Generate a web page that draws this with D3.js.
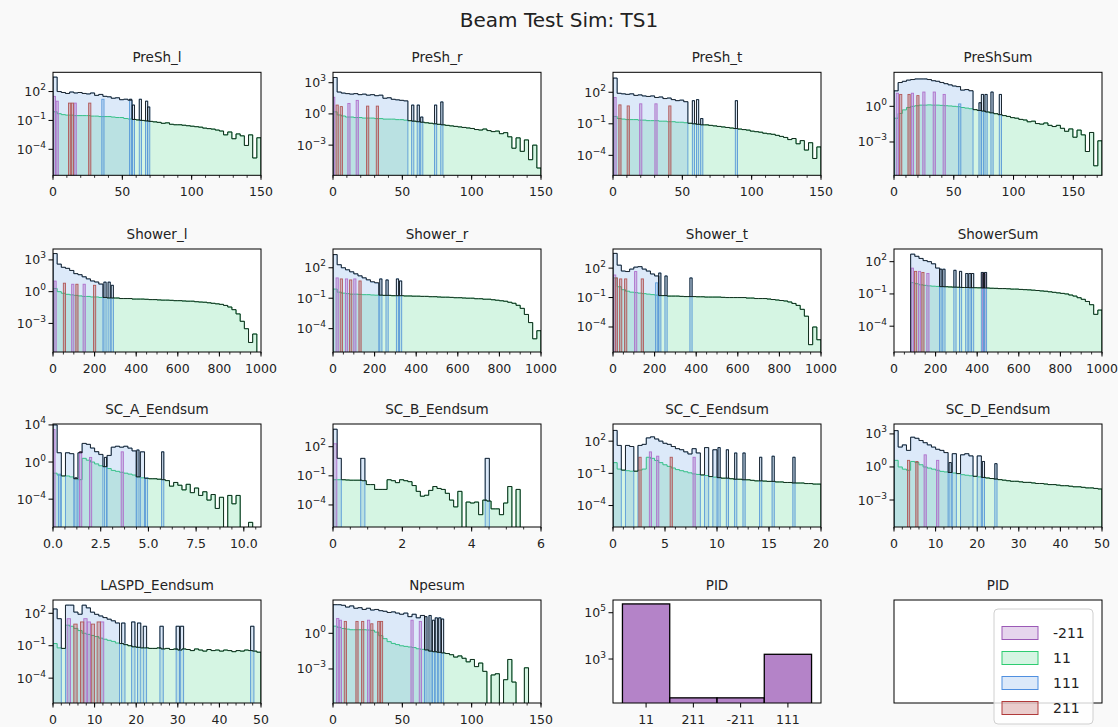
<!DOCTYPE html>
<html><head><meta charset="utf-8">
<script src="https://cdn.jsdelivr.net/npm/d3@7"></script>
<style>body{margin:0;background:#f9f9f9} svg{display:block} text{font-family:"DejaVu Sans",sans-serif;fill:#222}</style>
</head><body><svg id="c" width="1118" height="727"></svg>
<script>
// ---------- DATA (values as log10 of bin height; null = empty bin) ----------
const speciesOrder = ["-211","11","111","211"];

// PreSh_l
const preShL_e11 = [-0.1,-0.3,-0.4,-0.45,-0.45,-0.5,-0.5,-0.5,-0.5,-0.55,-0.55,-0.6,-0.6,-0.6,-0.65,-0.7,-0.7,-0.8,-0.85,-0.9,-0.95,-1.0,-1.05,-1.1,-1.15,-1.2,-1.3,-1.25,-1.4,-1.45,-1.45,-1.5,-1.55,-1.6,-1.65,-1.7,-1.8,-1.85,-1.9,-2.0,-2.1,-2.5,-2.2,-2.9,-2.4,-2.6,-3.6,-2.5,-4.9,-2.8];
const preShL_p111 = [3.5,2.0,1.9,1.8,1.95,1.85,1.9,1.8,1.75,1.85,1.6,1.7,1.5,1.45,1.3,1.35,1.15,1.2,1.1];
const preShL_p111s = [[36,1.2],[56,1.2],[58,0.6],[63,1.2],[67.5,1.0],[69,0.4]];
const preShL_m211 = [[1,1.5],[3,1.0],[16,0.8]];
const preShL_p211 = [[12,0.8],[14,0.8],[26.5,0.8]];

// PreSh_r
const preShR_e11 = [0.2,-0.1,-0.2,-0.3,-0.3,-0.35,-0.35,-0.4,-0.4,-0.4,-0.45,-0.45,-0.5,-0.5,-0.5,-0.55,-0.55,-0.6,-0.65,-0.7,-0.75,-0.8,-0.85,-0.9,-0.95,-1.0,-1.05,-1.1,-1.15,-1.2,-1.25,-1.3,-1.35,-1.4,-1.5,-1.55,-1.45,-1.6,-1.7,-1.65,-1.9,-1.8,-2.2,-3.3,-2.3,-3.6,-2.5,-4.4,-3.0,-5.2];
const preShR_p111 = [3.5,2.1,2.0,1.95,1.9,1.95,1.85,1.9,1.8,1.85,1.75,1.8,1.5,1.55,1.4,1.35,1.3,1.25];
const preShR_p111s = [[57.5,0.85],[61.5,0.85],[74,0.85],[78.5,1.15],[64,-0.3]];
const preShR_m211 = [[0.5,1.6],[11.5,1.0],[17.5,1.3]];
const preShR_p211 = [[3,0.85],[6,0.7],[25,0.75],[32,0.75]];

// PreSh_t
const preShT_e11 = [-0.3,-0.5,-0.55,-0.6,-0.6,-0.6,-0.65,-0.65,-0.7,-0.7,-0.7,-0.75,-0.75,-0.8,-0.8,-0.85,-0.85,-0.9,-0.95,-1.0,-1.05,-1.1,-1.1,-1.15,-1.2,-1.25,-1.3,-1.35,-1.4,-1.45,-1.5,-1.55,-1.6,-1.7,-1.75,-1.8,-1.9,-1.95,-2.0,-2.1,-2.2,-2.3,-2.5,-2.4,-2.9,-2.6,-3.5,-2.8,-4.3,-3.2];
const preShT_p111 = [3.35,1.9,1.85,1.8,1.85,1.7,1.75,1.65,1.6,1.65,1.5,1.55,1.4,1.45,1.3,1.2,1.25,1.1];
const preShT_p111s = [[58,1.2],[61,1.3],[89,1.2],[64,-0.5]];
const preShT_m211 = [[1.5,1.5],[20,0.9],[31,0.9]];
const preShT_p211 = [[5,0.8],[11,0.7],[41,0.7]];

// PreShSum
const preShSum_e11 = [-1.0,-0.6,-0.3,-0.1,0.0,0.05,0.1,0.1,0.12,0.1,0.1,0.08,0.05,0.03,0.0,-0.03,-0.1,-0.15,-0.2,-0.28,-0.35,-0.4,-0.48,-0.55,-0.62,-0.7,-0.78,-0.85,-0.95,-1.0,-1.1,-1.15,-1.3,-1.25,-1.45,-1.5,-1.4,-1.6,-1.7,-1.6,-1.85,-2.1,-1.9,-2.6,-2.0,-2.4,-3.8,-2.2,-5.0,-2.9];
const preShSum_p111 = [1.3,2.0,2.1,2.2,2.25,2.3,2.3,2.3,2.25,2.15,2.1,2.0,1.9,1.8,1.7,1.65,1.35,1.4,1.3];
const preShSum_p111s = [[74,1.0],[77,1.0],[82,1.2],[89,1.0],[55,0.2],[72,0.3]];
const preShSum_m211 = [[2.8,1.1],[15.4,1.1],[25,1.2],[33.7,1.2],[42,1.0]];
const preShSum_p211 = [[5.6,1.0],[12.6,1.0],[20,0.9]];

// Shower_l
const showerL_e11 = [0.3,0.0,-0.15,-0.25,-0.3,-0.35,-0.4,-0.45,-0.45,-0.5,-0.5,-0.55,-0.55,-0.6,-0.6,-0.6,-0.65,-0.65,-0.65,-0.7,-0.7,-0.7,-0.72,-0.75,-0.75,-0.78,-0.8,-0.8,-0.82,-0.85,-0.85,-0.88,-0.9,-0.9,-0.95,-0.98,-1.0,-1.05,-1.1,-1.15,-1.2,-1.3,-1.45,-1.7,-2.1,-2.8,-3.5,-4.8,-4.0,null];
const showerL_p111 = [3.6,2.6,2.3,2.2,2.0,1.7,1.6,1.4,1.2,1.0,0.9,0.7];
const showerL_p111s = [[250,0.9],[270,0.9],[285,0.6]];
const showerL_m211 = [[10,1.0],[95,0.7],[150,0.7]];
const showerL_p211 = [[55,0.8],[115,0.7],[200,0.6]];

// Shower_r
const showerR_e11 = [-0.1,-0.4,-0.5,-0.55,-0.6,-0.6,-0.62,-0.65,-0.65,-0.68,-0.7,-0.7,-0.72,-0.72,-0.75,-0.75,-0.75,-0.78,-0.78,-0.8,-0.8,-0.82,-0.82,-0.85,-0.85,-0.88,-0.9,-0.9,-0.92,-0.95,-0.95,-0.98,-1.0,-1.0,-1.05,-1.05,-1.1,-1.1,-1.15,-1.2,-1.25,-1.3,-1.4,-1.5,-1.7,-2.0,-2.6,-3.4,-5.0,-4.2];
const showerR_p111 = [3.3,2.3,2.0,1.8,1.6,1.4,1.2,1.0,0.8,0.6,0.5];
const showerR_p111s = [[230,0.9],[260,0.8],[310,0.9],[325,0.7]];
const showerR_m211 = [[20,1.0],[65,0.9],[105,0.9]];
const showerR_p211 = [[40,0.9],[85,0.8],[130,0.7]];

// Shower_t
const showerT_e11 = [1.0,0.1,-0.2,-0.35,-0.45,-0.5,-0.55,-0.6,-0.65,-0.7,-0.75,-0.8,-0.8,-0.85,-0.85,-0.85,-0.88,-0.9,-0.9,-0.9,-0.92,-0.92,-0.95,-0.95,-0.95,-0.95,-0.98,-1.0,-1.0,-1.0,-1.0,-1.0,-1.05,-1.05,-1.1,-1.1,-1.1,-1.15,-1.2,-1.25,-1.3,-1.35,-1.45,-1.6,-1.8,-2.2,-2.9,-5.8,-4.0,-5.3];
const showerT_p111 = [3.5,2.3,1.7,1.65,1.9,2.1,2.15,1.9,1.7,1.4,1.2];
const showerT_p111s = [[225,1.5],[255,1.2],[375,1.0],[210,0.5]];
const showerT_m211 = [[8,1.3],[109,1.65]];
const showerT_p211 = [[16,1.0],[37,0.9],[61,0.9],[141,0.9]];

// ShowerSum
const showerSum_e11 = [null,null,null,null,0.05,-0.05,-0.15,-0.2,-0.25,-0.28,-0.3,-0.32,-0.33,-0.35,-0.37,-0.38,-0.4,-0.4,-0.42,-0.42,-0.43,-0.45,-0.45,-0.47,-0.48,-0.5,-0.5,-0.52,-0.55,-0.55,-0.58,-0.6,-0.62,-0.65,-0.68,-0.72,-0.75,-0.8,-0.85,-0.9,-0.95,-1.0,-1.1,-1.2,-1.35,-1.5,-1.7,-2.0,-2.9,-2.5];
const showerSum_p111 = [null,null,null,null,2.7,2.5,2.3,2.1,2.0,1.8,1.4];
const showerSum_p111s = [[225,1.3],[240,1.3],[293,1.2],[320,1.1],[350,0.9],[365,0.9],[378,0.9],[425,1.0],[440,1.0]];
const showerSum_m211 = [[88,1.4],[123,1.1],[163,0.9],[432,0.9]];
const showerSum_p211 = [[104,1.1],[139,1.0]];

// SC_A_Eendsum
const scA_e11 = [-1.2,-1.4,-1.5,-1.5,-1.6,-1.8,-1.9,0.4,0.2,0.0,-0.2,-0.4,-0.5,-0.7,-0.9,-1.0,-1.1,-1.2,-1.3,-1.4,-1.6,-1.7,-1.75,-1.8,-1.8,-1.85,-1.9,-2.0,-2.6,-2.2,-2.5,-3.0,-2.4,-3.3,-2.8,-3.6,-3.2,-4.1,-3.5,-5.0,-3.8,null,-3.6,-4.5,-3.6,null,null,-6.5,null,null];
const scA_p111 = [4.0,1.0,null,1.0,0.9,null,1.0,2.0,1.9,1.5,1.1,0.8,null,0.7,1.6,1.7,1.6,1.7,1.5,1.2,null,1.1];
const scA_p111s = [[0.35,-1.3],[1.2,-1.7],[2.75,0.5],[4.45,1.3],[4.9,-1.7],[5.75,1.1]];
const scA_m211 = [[0.05,3.5],[1.45,1.1],[1.97,0.5],[3.63,1.1]];
const scA_p211 = [];

// SC_B_Eendsum
const scB_e11 = [-1.4,-1.4,-1.4,-1.43,-1.45,-1.45,-1.45,-1.5,-1.9,-1.9,-2.4,-2.4,-2.4,-1.4,-1.5,-1.7,-1.4,-1.5,-1.6,-2.0,-2.6,-3.1,-3.0,-2.5,-2.1,-2.3,-2.4,-2.8,-3.5,-4.2,-2.6,null,-3.7,-3.8,-3.7,-5.0,-3.5,-3.6,-4.4,-4.4,-5.0,-3.8,-2.1,null,-2.4,null,null,null,null,null];
const scB_p111 = [3.8,0.8];
const scB_p111s = [[0.86,0.8],[4.45,0.8]];
const scB_m211 = [[0.05,2.3]];
const scB_p211 = [];

// SC_C_Eendsum
const scC_e11 = [0.0,-0.6,-0.7,-0.75,-0.8,-0.8,-0.7,-0.6,0.5,0.4,0.2,0.0,-0.2,-0.35,-0.5,-0.65,-0.75,-0.85,-0.95,-1.05,-1.1,-1.15,-1.2,-1.3,-1.35,-1.4,-1.45,-1.45,-1.5,-1.55,-1.55,-1.6,-1.6,-1.65,-1.7,-1.7,-1.72,-1.75,-1.75,-1.8,-1.8,-1.85,-1.85,-1.9,-1.9,-1.9,-1.95,-1.95,-2.0,-2.0];
const scC_p111 = [3.0,1.6,null,1.6,1.5,null,1.6,1.7,2.3,2.4,2.2,2.0,1.8,1.7,1.5,1.3,1.2,1.0,0.8,1.3,0.9,null,1.4,null,1.2];
const scC_p111s = [[10.2,1.4],[11.0,1.2],[11.8,0.9],[12.6,0.9],[14.2,0.5],[15.4,0.6],[17.4,0.5]];
const scC_m211 = [[3.6,1.0],[4.3,0.6],[7.8,0.5]];
const scC_p211 = [[2.6,0.5],[5.6,0.5]];

// SC_D_Eendsum
const scD_e11 = [0.6,0.0,-0.2,-0.3,0.5,0.4,0.2,0.0,-0.1,-0.2,-0.3,-0.4,-0.45,-0.5,-0.55,-0.6,-0.7,-0.75,-0.8,-0.85,-0.9,-0.95,-1.0,-1.05,-1.1,-1.15,-1.2,-1.25,-1.3,-1.3,-1.35,-1.4,-1.4,-1.45,-1.5,-1.5,-1.55,-1.6,-1.6,-1.65,-1.7,-1.7,-1.75,-1.8,-1.8,-1.85,-1.9,-1.9,-1.95,-2.0];
const scD_p111 = [3.3,1.8,2.0,1.5,2.7,2.6,2.4,2.2,2.0,1.8,1.6,1.5,1.3,null,1.2,null,1.1,1.2,1.0,null,1.0];
const scD_p111s = [[21.5,0.5],[24.5,0.3],[13.5,0.4]];
const scD_m211 = [[7.5,1.1],[10.5,0.6]];
const scD_p211 = [[3.5,0.6],[5.5,0.5]];

// LASPD_Eendsum
const laspd_e11 = [-0.8,-1.2,-1.25,0.9,0.8,0.6,0.4,0.15,0.05,-0.05,-0.15,-0.3,-0.4,-0.5,-0.6,-0.75,-0.8,-0.9,-1.0,-1.1,-1.15,-1.2,-1.2,-1.25,-1.25,-1.2,-1.3,-1.25,-1.35,-1.3,-1.4,-1.3,-1.35,-1.45,-1.3,-1.4,-1.5,-1.35,-1.45,-1.4,-1.5,-1.4,-1.45,-1.55,-1.45,-1.5,-1.4,-1.45,-1.5,-1.6];
const laspd_p111 = [2.4,1.5,null,2.75,2.75,2.1,1.9,2.75,2.5,2.1,1.9,1.75,1.6,1.45,1.3,1.1];
const laspd_p111s = [[16.9,1.1],[19.3,1.2],[20.7,1.1],[22.1,0.8],[26.1,0.8],[30.0,0.8],[31.0,0.8],[47.9,0.8]];
const laspd_m211 = [[3.8,1.5],[7.8,1.5],[8.6,1.2],[11.8,1.2]];
const laspd_p211 = [[5.4,1.0],[7.0,1.2],[9.6,1.0],[11.0,1.2]];

// Npesum
const npe_e11 = [0.6,0.5,0.4,0.35,0.3,0.3,0.3,0.3,0.28,0.25,0.1,-0.2,-0.45,-0.7,-0.85,-0.95,-1.05,-1.1,-1.15,-1.2,-1.3,-1.35,-1.4,-1.5,-1.55,-1.6,-1.65,-1.7,-1.8,-2.0,-1.9,-2.1,-2.4,-2.2,-2.8,-2.5,-3.2,null,-3.5,-3.4,null,-3.9,-2.2,-4.1,null,null,-2.9,null,null,null];
const npe_p111 = [2.4,2.4,2.35,2.2,2.3,2.1,2.15,2.0,2.1,1.95,2.0,1.9,1.85,1.75,1.8,1.7,1.6,1.7,1.4,1.6,1.3,1.5];
const npe_p111s = [[67,1.4],[70,1.5],[72.5,1.1],[74.5,1.3],[77,1.3],[79,1.2]];
const npe_m211 = [[3.4,1.25],[5.3,1.1],[25.7,1.1],[57,1.1],[63,1.0]];
const npe_p211 = [[8.9,1.0],[17.3,1.0],[21.4,1.0],[28,0.8],[33,1.0],[35,1.0]];

// PID
const pidCats = ["11","211","-211","111"];
const pidCounts = [240000, 21, 21, 1600];

// ---------- PANEL SETUP ----------
const panels = [
 {t:"PreSh_l", xd:[0,150], xt:[0,50,100,150], yd:[-6.7,4.0], yt:[2,-1,-4], g:preShL_e11, b:preShL_p111, bs:preShL_p111s, m:preShL_m211, r:preShL_p211},
 {t:"PreSh_r", xd:[0,150], xt:[0,50,100,150], yd:[-5.9,4.0], yt:[3,0,-3], g:preShR_e11, b:preShR_p111, bs:preShR_p111s, m:preShR_m211, r:preShR_p211},
 {t:"PreSh_t", xd:[0,150], xt:[0,50,100,150], yd:[-5.9,3.9], yt:[2,-1,-4], g:preShT_e11, b:preShT_p111, bs:preShT_p111s, m:preShT_m211, r:preShT_p211},
 {t:"PreShSum", xd:[0,174], xt:[0,50,100,150], yd:[-5.8,2.86], yt:[0,-3], g:preShSum_e11, b:preShSum_p111, bs:preShSum_p111s, m:preShSum_m211, r:preShSum_p211},
 {t:"Shower_l", xd:[0,1000], xt:[0,200,400,600,800,1000], yd:[-5.7,4.03], yt:[3,0,-3], g:showerL_e11, b:showerL_p111, bs:showerL_p111s, m:showerL_m211, r:showerL_p211},
 {t:"Shower_r", xd:[0,1000], xt:[0,200,400,600,800,1000], yd:[-6.3,3.85], yt:[2,-1,-4], g:showerR_e11, b:showerR_p111, bs:showerR_p111s, m:showerR_m211, r:showerR_p211},
 {t:"Shower_t", xd:[0,1000], xt:[0,200,400,600,800,1000], yd:[-6.55,3.95], yt:[2,-1,-4], g:showerT_e11, b:showerT_p111, bs:showerT_p111s, m:showerT_m211, r:showerT_p211},
 {t:"ShowerSum", xd:[0,1000], xt:[0,200,400,600,800,1000], yd:[-6.4,3.18], yt:[2,-1,-4], g:showerSum_e11, b:showerSum_p111, bs:showerSum_p111s, m:showerSum_m211, r:showerSum_p211},
 {t:"SC_A_Eendsum", xd:[0,10.9], xt:[0,2.5,5,7.5,10], fmt:d3.format(".1f"), yd:[-7.0,4.1], yt:[4,0,-4], g:scA_e11, b:scA_p111, bs:scA_p111s, m:scA_m211, r:scA_p211},
 {t:"SC_B_Eendsum", xd:[0,6], xt:[0,2,4,6], yd:[-6.27,4.34], yt:[2,-1,-4], g:scB_e11, b:scB_p111, bs:scB_p111s, m:scB_m211, r:scB_p211, sw:0.12},
 {t:"SC_C_Eendsum", xd:[0,20], xt:[0,5,10,15,20], yd:[-6.0,3.6], yt:[2,-1,-4], g:scC_e11, b:scC_p111, bs:scC_p111s, m:scC_m211, r:scC_p211},
 {t:"SC_D_Eendsum", xd:[0,50], xt:[0,10,20,30,40,50], yd:[-5.45,3.9], yt:[3,0,-3], g:scD_e11, b:scD_p111, bs:scD_p111s, m:scD_m211, r:scD_p211},
 {t:"LASPD_Eendsum", xd:[0,50], xt:[0,10,20,30,40,50], yd:[-6.3,3.23], yt:[2,-1,-4], g:laspd_e11, b:laspd_p111, bs:laspd_p111s, m:laspd_m211, r:laspd_p211, sw:0.8},
 {t:"Npesum", xd:[0,150], xt:[0,50,100,150], yd:[-5.86,2.8], yt:[0,-3], g:npe_e11, b:npe_p111, bs:npe_p111s, m:npe_m211, r:npe_p211}
];

const COL = {"-211":"#9b59b6","11":"#2ecc71","111":"#4f8fe0","211":"#b03a3a"};
const SPIKE_EDGE = {"-211":"#b070cc","111":"#5a9ad8","211":"#b25858"};
const colL=[53,333,613,894], rowT=[72.3,249,424,600], W=208, H=103;
const svg = d3.select('#c');
svg.append('rect').attr('width',1118).attr('height',727).attr('fill','#f9f9f9');
svg.append('text').attr('x',559).attr('y',27).attr('text-anchor','middle').attr('font-size',20).text('Beam Test Sim: TS1');

function supLabel(sel, e){
  sel.append('tspan').text('10');
  sel.append('tspan').attr('dy',-6).attr('font-size',9).text(e<0?'\u2212'+(-e):String(e));
}

function frame(i){
  const col=i%4,row=Math.floor(i/4);
  const g=svg.append('g').attr('transform',`translate(${colL[col]},${rowT[row]})`);
  g.append('rect').attr('width',W).attr('height',H).attr('fill','#fff');
  return g;
}

function xAxis(g, xS, ticks, fmt, minor){
  const ax=g.append('g').attr('transform',`translate(0,${H})`);
  if(minor){
    ax.selectAll('line.mn').data(minor).join('line').attr('x1',d=>xS(d)).attr('x2',d=>xS(d)).attr('y1',0).attr('y2',2.5).attr('stroke','#000').attr('stroke-width',0.8);
  }
  ax.selectAll('line.mj').data(ticks).join('line').attr('x1',d=>xS(d)).attr('x2',d=>xS(d)).attr('y1',0).attr('y2',4.5).attr('stroke','#000').attr('stroke-width',1);
  ax.selectAll('text').data(ticks).join('text').attr('x',d=>xS(d)).attr('y',21).attr('text-anchor','middle').attr('font-size',12.5).text(d=>fmt(d));
}
function yAxis(g, yS, exps){
  exps.forEach(e=>{
    const y=yS(Math.pow(10,e));
    g.append('line').attr('x1',-4.5).attr('x2',0).attr('y1',y).attr('y2',y).attr('stroke','#000');
    const t=g.append('text').attr('x',-7).attr('y',y+4.5).attr('text-anchor','end').attr('font-size',12.5);
    supLabel(t,e);
  });
}

function stepPath(arr, x0, bw, xS, yS, closed){
  const bot=H+4;
  const yv=v=>v==null?bot:Math.min(bot,yS(Math.pow(10,v)));
  let d=`M${xS(x0)},${bot}`;
  arr.forEach((v,k)=>{const y=yv(v); d+=`L${xS(x0+k*bw)},${y}L${xS(x0+(k+1)*bw)},${y}`;});
  d+=`L${xS(x0+arr.length*bw)},${bot}`;
  return closed? d+'Z' : d;
}

panels.forEach((p,i)=>{
  const g=frame(i);
  const xS=d3.scaleLinear().domain(p.xd).range([0,W]);
  const yS=d3.scaleLog().domain([Math.pow(10,p.yd[0]),Math.pow(10,p.yd[1])]).range([H,0]);
  const nb=p.g.length, x0=p.xd[0], bw=(p.xd[1]-p.xd[0])/nb;
  const sw=p.sw||(p.xd[1]-p.xd[0])/95;
  const cid='clip'+i;
  g.append('clipPath').attr('id',cid).append('rect').attr('width',W).attr('height',H);
  const pl=g.append('g').attr('clip-path',`url(#${cid})`);
  // 11 layer
  pl.append('path').attr('d',stepPath(p.g,x0,bw,xS,yS,true)).attr('fill',COL["11"]).attr('fill-opacity',0.2).attr('stroke','none');
  pl.append('path').attr('d',stepPath(p.g,x0,bw,xS,yS,false)).attr('fill','none').attr('stroke',COL["11"]).attr('stroke-width',1);
  // 111 main layer
  pl.append('path').attr('d',stepPath(p.b,x0,bw,xS,yS,true)).attr('fill',COL["111"]).attr('fill-opacity',0.2).attr('stroke','none');
  pl.append('path').attr('d',stepPath(p.b,x0,bw,xS,yS,false)).attr('fill','none').attr('stroke',SPIKE_EDGE["111"]).attr('stroke-width',0.9);
  // spikes
  const spikes=(list,key)=>{
    pl.selectAll(null).data(list).join('rect')
      .attr('x',d=>xS(d[0]-sw/2)).attr('width',d=>Math.max(1,xS(d[0]+sw/2)-xS(d[0]-sw/2)))
      .attr('y',d=>yS(Math.pow(10,d[1]))).attr('height',d=>H+4-yS(Math.pow(10,d[1])))
      .attr('fill',COL[key]).attr('fill-opacity',key==="111"?0.2:0.28).attr('stroke',SPIKE_EDGE[key]).attr('stroke-width',0.9);
  };
  spikes(p.m,"-211"); spikes(p.bs,"111"); spikes(p.r,"211");
  // total envelope
  const bArr=p.b;
  const tot=p.g.map((v,k)=>{
    let s=0; if(v!=null) s+=Math.pow(10,v);
    const bv=bArr[k]; if(bv!=null) s+=Math.pow(10,bv);
    return s>0?Math.log10(s):null;
  });
  pl.append('path').attr('d',stepPath(tot,x0,bw,xS,yS,false)).attr('fill','none').attr('stroke','#111').attr('stroke-width',0.85);
  const allSp=[].concat(p.m,p.bs,p.r);
  allSp.forEach(s=>{
    const k=Math.floor((s[0]-x0)/bw);
    const env=(k>=0&&k<nb)?tot[k]:null;
    if(env==null||s[1]>env+0.05){
      const ye=env==null?H+4:yS(Math.pow(10,env));
      const ys=yS(Math.pow(10,s[1]));
      const xa=xS(s[0]-sw/2), xb=xa+Math.max(1,xS(s[0]+sw/2)-xS(s[0]-sw/2));
      pl.append('path').attr('d',`M${xa},${ye}L${xa},${ys}L${xb},${ys}L${xb},${ye}`).attr('fill','none').attr('stroke','#111').attr('stroke-width',0.85);
    }
  });
  // axes
  const st=p.xt[1]-p.xt[0];
  const mant=st/Math.pow(10,Math.floor(Math.log10(st)));
  const nd=(Math.abs(mant-1)<1e-9||Math.abs(mant-5)<1e-9)?5:4;
  const minor=[]; for(let v=p.xd[0]; v<=p.xd[1]+1e-9; v+=st/nd) minor.push(+v.toFixed(6));
  xAxis(g,xS,p.xt,p.fmt||(d=>String(d)),minor);
  yAxis(g,yS,p.yt);
  g.append('rect').attr('width',W).attr('height',H).attr('fill','none').attr('stroke','#000').attr('stroke-width',1);
  g.append('text').attr('x',W/2).attr('y',-10.5).attr('text-anchor','middle').attr('font-size',13.5).text(p.t);
});

// PID bar panel
(function(){
  const g=frame(14);
  const xS=d3.scaleLinear().domain([-0.7,3.7]).range([0,W]);
  const yS=d3.scaleLog().domain([Math.pow(10,1.1),Math.pow(10,5.55)]).range([H,0]);
  const cid='clipPID';
  g.append('clipPath').attr('id',cid).append('rect').attr('width',W).attr('height',H);
  g.append('g').attr('clip-path',`url(#${cid})`).selectAll('rect').data(pidCounts).join('rect')
    .attr('x',(d,i)=>xS(i-0.5)).attr('width',xS(0.5)-xS(-0.5))
    .attr('y',d=>yS(d)).attr('height',d=>H+4-yS(d))
    .attr('fill',COL["-211"]).attr('fill-opacity',0.75).attr('stroke','#000').attr('stroke-width',1.3);
  const ax=g.append('g').attr('transform',`translate(0,${H})`);
  ax.selectAll('line').data(pidCats).join('line').attr('x1',(d,i)=>xS(i)).attr('x2',(d,i)=>xS(i)).attr('y1',0).attr('y2',4.5).attr('stroke','#000');
  ax.selectAll('text').data(pidCats).join('text').attr('x',(d,i)=>xS(i)).attr('y',21).attr('text-anchor','middle').attr('font-size',12.5).text(d=>d);
  yAxis(g,yS,[5,3]);
  g.append('rect').attr('width',W).attr('height',H).attr('fill','none').attr('stroke','#000');
  g.append('text').attr('x',W/2).attr('y',-10.5).attr('text-anchor','middle').attr('font-size',13.5).text('PID');
})();

// Empty PID panel with legend
(function(){
  const g=frame(15);
  g.append('rect').attr('width',W).attr('height',H).attr('fill','none').attr('stroke','#000');
  g.append('text').attr('x',W/2).attr('y',-10.5).attr('text-anchor','middle').attr('font-size',13.5).text('PID');
  const lg=svg.append('g').attr('transform','translate(994,609)');
  lg.append('rect').attr('width',99).attr('height',115).attr('rx',4).attr('fill','#fff').attr('fill-opacity',0.8).attr('stroke','#d0d0d0');
  speciesOrder.forEach((s,i)=>{
    const cy=24+i*25;
    lg.append('rect').attr('x',8).attr('y',cy-6.5).attr('width',36).attr('height',13).attr('fill',COL[s]).attr('fill-opacity',s==="11"||s==="111"?0.2:0.25).attr('stroke',COL[s]).attr('stroke-width',1);
    lg.append('text').attr('x',59).attr('y',cy+5).attr('font-size',14).text(s);
  });
})();
</script></body></html>
